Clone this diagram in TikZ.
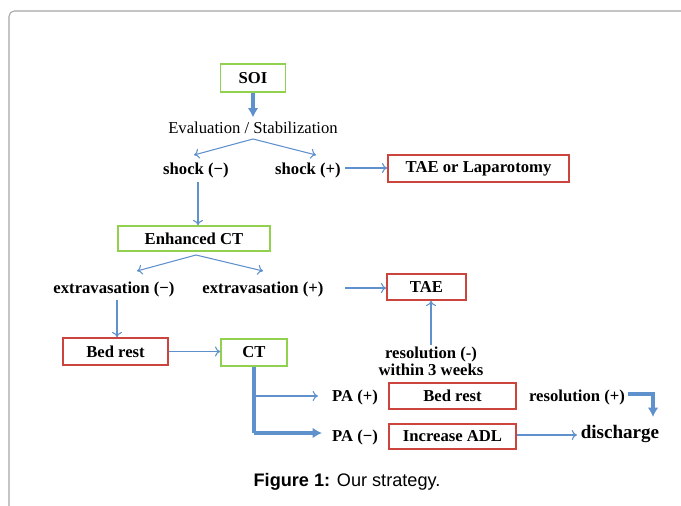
\documentclass[tikz,border=0pt]{standalone}
\usepackage{fontspec}
\setmainfont{Liberation Serif}
\newfontfamily\capfont{Liberation Sans}
\usepackage{tikz}
\usetikzlibrary{arrows,arrows.meta,shapes}
\definecolor{boxgreen}{RGB}{146,208,80}
\definecolor{boxred}{RGB}{204,68,62}
\definecolor{arrblue}{RGB}{95,145,205}
\tikzstyle{gbox}=[draw=boxgreen,line width=1.1pt,inner sep=0pt,font=\fontsize{12.5}{14}\selectfont\bfseries]
\tikzstyle{rbox}=[draw=boxred,line width=1.1pt,inner sep=0pt,font=\fontsize{12.5}{14}\selectfont\bfseries]
\tikzstyle{lbl}=[inner sep=1pt,font=\fontsize{12.5}{14}\selectfont\bfseries]
\tikzstyle{link} = [draw=arrblue,line width=0.8pt,-{To[length=4pt,width=7.5pt]}]
\tikzstyle{thicklink} = [draw=arrblue,line width=2.4pt,-{Latex[length=7pt,width=8pt]}]

\begin{document}
\begin{tikzpicture}[x=0.75pt,y=-0.75pt]
    \useasboundingbox (0,0) rectangle (681,506);
    % frame round the figure
    \draw[black!35,line width=0.8pt,rounded corners=4pt] (9,506) -- (9,11) -- (681,11);

    % First the boxes and the labels
    \node[gbox,minimum width=48.75pt,minimum height=21pt] (soi) at (253,78) {SOI};
    \node[font=\fontsize{12.5}{14}\selectfont] (eval) at (253,128) {Evaluation / Stabilization};
    \node[lbl] (shockneg) at (196,170) {shock (\textminus)};
    \node[lbl] (shockpos) at (308,170) {shock (+)};
    \node[rbox,minimum width=135.75pt,minimum height=20.25pt] (taelap) at (478.5,168.5) {TAE or Laparotomy};
    \node[gbox,minimum width=114pt,minimum height=18.75pt] (ect) at (194,238.5) {Enhanced CT};
    \node[lbl] (extneg) at (114,289) {extravasation (\textminus)};
    \node[lbl] (extpos) at (263,289) {extravasation (+)};
    \node[rbox,minimum width=59.25pt,minimum height=19.5pt] (tae) at (426.5,287) {TAE};
    \node[lbl,align=center,font=\fontsize{12.5}{13}\selectfont\bfseries] (resneg) at (431,361) {resolution (-)\\within 3 weeks};
    \node[rbox,minimum width=78.75pt,minimum height=20.25pt] (bedrest) at (115.5,351.5) {Bed rest};
    \node[gbox,minimum width=49.5pt,minimum height=20.25pt] (ct) at (254,352.5) {CT};
    \node[lbl] (papos) at (355,397) {PA (+)};
    \node[lbl] (paneg) at (355,437) {PA (\textminus)};
    \node[rbox,minimum width=95.25pt,minimum height=19.5pt] (bedrest2) at (452.5,396) {Bed rest};
    \node[rbox,line width=0.8pt,minimum width=95.25pt,minimum height=18.75pt] (adl) at (452.5,436.5) {Increase ADL};
    \node[lbl] (resplus) at (577,397) {resolution (+)};
    \node[lbl,font=\fontsize{14.3}{16}\selectfont\bfseries] (discharge) at (620,434) {discharge};

    % free ends of the connectors
    \coordinate (evalsplit) at (253,139);
    \coordinate (ectsplit) at (196,255);
    \coordinate (ctturn) at (254,433);
    \coordinate (resturn) at (653,394);

    % Connect with arrows
    \path[thicklink] (soi) -- (eval);
    \path[link] (evalsplit) -- (194,155);
    \path[link] (evalsplit) -- (316,155);
    \path[link] (345,168) -- (taelap.west |- 0,168);
    \path[link] (198,182) -- (ect.north -| 198,0);
    \path[link] (ectsplit) -- (137,271);
    \path[link] (ectsplit) -- (263,271);
    \path[link] (345,288) -- (tae.west |- 0,288);
    \path[link] (resneg.north -| 431,0) -- (tae.south -| 431,0);
    \path[link] (117,300) -- (bedrest.north -| 117,0);
    \path[link] (bedrest.east) -- (ct.west |- bedrest.east);
    \path[thicklink,-] (ct.south) -- (ctturn);
    \path[thicklink] (ctturn) -- (322,433);
    \path[link] (254,396) -- (318,396);
    \path[link] (adl.east |- 0,435) -- (577,435);
    \path[thicklink] (628,394) -- (resturn) -- (653,417);

    % caption
    \node[font=\capfont\fontsize{13.6}{15}\selectfont] (caption) at (347,482) {\textbf{Figure 1:} Our strategy.};
\end{tikzpicture}
\end{document}
